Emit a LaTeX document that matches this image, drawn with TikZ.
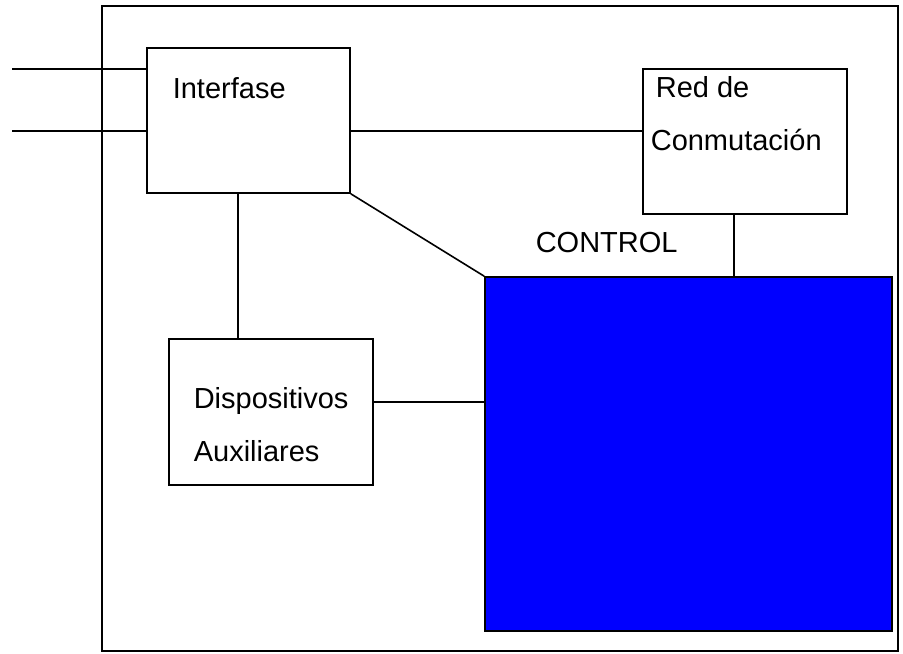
\documentclass[tikz,border=0pt]{standalone}
\usepackage{fontspec}
\setmainfont{Liberation Sans}
\usepackage{xcolor}
\usetikzlibrary{positioning,calc}
\definecolor{CtlBlue}{HTML}{0000FF}

\tikzset{
  unit/.style={draw=black,line width=0.8pt,inner sep=0pt},
  lbl/.style={anchor=base west,inner sep=0pt,font=\fontsize{14.5}{17}\selectfont}
}

\begin{document}
\begin{tikzpicture}[x=0.5pt,y=-0.5pt,line width=0.8pt]
  \useasboundingbox (0,0) rectangle (903,653);
  % central frame
  \draw (102,6) rectangle (898,651);
  % blocks
  \node[unit,minimum width=101.5pt,minimum height=72.5pt] (ifz) at (248.5,120.5) {};
  \node[unit,minimum width=102pt,minimum height=72.5pt] (red) at (745,141.5) {};
  \node[unit,minimum width=102pt,minimum height=73pt] (dsp) at (271,412) {};
  \node[unit,fill=CtlBlue,minimum width=203.5pt,minimum height=177pt] (ctl) at (688.5,454) {};
  % labels
  \node[lbl] (ifztxt) at (172,98) {Interfase};
  \node[lbl] (redtxt1) at (655,97) {Red de};
  \node[lbl] (redtxt2) at (650,150) {Conmutación};
  \node[lbl] (dsptxt1) at (193,408) {Dispositivos};
  \node[lbl] (dsptxt2) at (193,461) {Auxiliares};
  \node[lbl] (ctltxt) at (535,252) {CONTROL};
  % links
  \coordinate (in1) at (12,69);
  \coordinate (in2) at (12,131);
  \coordinate (vx) at (238,0);
  \coordinate (hx) at (734,0);
  \coordinate (hy) at (0,402);
  \draw (in1) -- (in1 -| ifz.west);
  \draw (in2) -- (in2 -| ifz.west);
  \draw (ifz.east |- in2) -- (red.west |- in2);
  \draw (ifz.south east) -- (ctl.north west);
  \draw (ifz.south -| vx) -- (dsp.north -| vx);
  \draw (dsp.east |- hy) -- (ctl.west |- hy);
  \draw (red.south -| hx) -- (ctl.north -| hx);
\end{tikzpicture}
\end{document}
